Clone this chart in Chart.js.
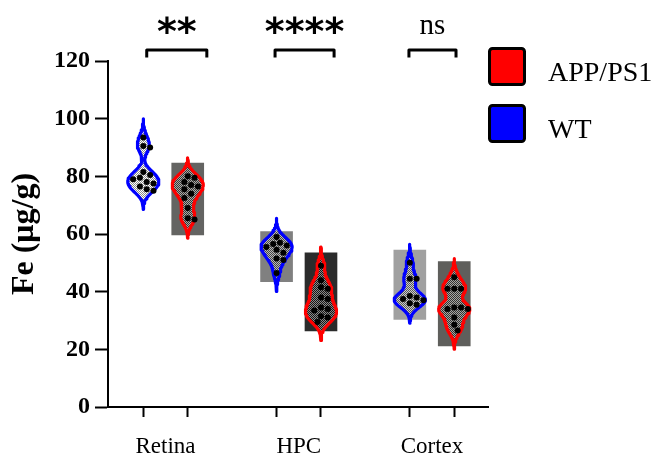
<!DOCTYPE html>
<html><head><meta charset="utf-8">
<script src="https://cdn.jsdelivr.net/npm/chart.js@4.4.1/dist/chart.umd.min.js"></script>
<style>html,body{margin:0;padding:0;background:#fff}</style>
</head><body>
<canvas id="c" width="659" height="455"></canvas>
<script>
// ---- data ----
const groups = ['Retina', 'HPC', 'Cortex'];
const seriesNames = ['WT', 'APP/PS1'];
const retinaWT  = [93.5, 90.5, 90, 81.5, 80.5, 79.5, 79, 78, 77.5, 76.5, 75.5, 75];
const retinaAPP = [80, 79.5, 78, 77, 76.5, 75.5, 74, 72.5, 69, 65.5, 65];
const hpcWT     = [59, 57, 56.5, 56, 55.5, 54.5, 53.5, 51.5, 51, 46.5];
const hpcAPP    = [49, 44, 41.5, 41, 38, 37.5, 34.5, 34, 33.5, 31.5, 31, 29.5];
const cortexWT  = [50, 44.5, 44.5, 38.5, 38, 37.5, 37, 36, 35.5];
const cortexAPP = [45, 41, 41, 41, 34.5, 34.5, 34, 34, 31, 28.5, 26.5];
// floating range boxes (low, high); Retina WT has none
const boxLow  = [null, 59.7, 43.5, 26.4, 30.4, 21.2];
const boxHigh = [null, 84.6, 60.8, 53.5, 54.4, 50.4];
const yTickValues = [0, 20, 40, 60, 80, 100, 120];
const sigLabels = ['**', '****', 'ns'];

// ---- layout / style ----
const samples = [retinaWT, retinaAPP, hpcWT, hpcAPP, cortexWT, cortexAPP];
const xPos = [1, 2, 4, 5, 7, 8];
const groupCenters = [1.5, 4.5, 7.5];
const lineColors = ['#0000ff', '#ff0000', '#0000ff', '#ff0000', '#0000ff', '#ff0000'];
const boxColors = ['rgba(0,0,0,0)', '#646462', '#808080', '#2b2b2b', '#a0a0a0', '#5f5f5c'];
const bracketX = [[1.077, 2.43], [3.966, 5.295], [6.98, 8.04]];
const PXU = 44.4, PYU = 2.883;

const pc = document.createElement('canvas'); pc.width = 2; pc.height = 2;
const pctx = pc.getContext('2d');
pctx.fillStyle = 'rgba(0,0,0,0.45)'; pctx.fillRect(0,0,1,1); pctx.fillRect(1,1,1,1);
pctx.fillStyle = 'rgba(255,255,255,0.45)'; pctx.fillRect(1,0,1,1); pctx.fillRect(0,1,1,1);
const pattern = pctx.createPattern(pc, 'repeat');

function violin(vals, c, bw, half) {
  const lo = Math.min(...vals) - 2.8 * bw, hi = Math.max(...vals) + 2.8 * bw;
  const ys = [];
  for (let y = lo; y <= hi + 1e-9; y += 0.4) ys.push(y);
  const d = ys.map(y => vals.reduce((s, v) => s + Math.exp(-0.5 * ((y - v) / bw) ** 2), 0));
  const m = Math.max(...d);
  const right = ys.map((y, i) => ({x: c + half * d[i] / m, y}));
  const left = ys.map((y, i) => ({x: c - half * d[i] / m, y})).reverse();
  return [{x: c, y: lo}, ...right, {x: c, y: hi}, ...left, {x: c, y: lo}];
}
function swarm(vals, c) {
  const placed = [];
  const sorted = [...vals].sort((a, b) => b - a);
  const cand = [0]; for (let k = 1; k < 8; k++) { cand.push(k * 3.4, -k * 3.4); }
  sorted.forEach(v => {
    for (const off of cand) {
      const ok = placed.every(p => Math.hypot(off - p.o, (v - p.y) * PYU) >= 6.6);
      if (ok) { placed.push({o: off, y: v}); break; }
    }
  });
  return placed.map(p => ({x: c + p.o / PXU, y: p.y}));
}

const datasets = [];
datasets.push({
  type: 'bar', order: 10,
  data: xPos.map((x, i) => boxLow[i] === null ? {x, y: null} : {x, y: [boxLow[i], boxHigh[i]]}),
  backgroundColor: boxColors, borderWidth: 0, barThickness: 32
});
samples.forEach((s, i) => {
  datasets.push({
    type: 'line', order: 5, data: violin(s, xPos[i], 2.3, 0.35),
    borderColor: lineColors[i], borderWidth: 3.2, backgroundColor: pattern,
    fill: 'shape', pointRadius: 0, tension: 0, borderJoinStyle: 'round'
  });
});
samples.forEach((s, i) => {
  datasets.push({
    type: 'scatter', order: 1, data: swarm(s, xPos[i]),
    pointRadius: 3, backgroundColor: '#000', borderWidth: 0, showLine: false
  });
});

const xTickValues = [1, 1.5, 2, 4, 4.5, 5, 7, 7.5, 8];

const overlay = {
  id: 'overlay',
  afterDraw(chart) {
    const ctx = chart.ctx, xs = chart.scales.x, ys = chart.scales.y;
    ctx.save();
    ctx.strokeStyle = '#000'; ctx.lineWidth = 3; ctx.lineJoin = 'round'; ctx.lineCap = 'butt';
    const yb = ys.getPixelForValue(123.8), yl = ys.getPixelForValue(121.2);
    bracketX.forEach(([a, b], i) => {
      const xa = xs.getPixelForValue(a), xb = xs.getPixelForValue(b);
      ctx.beginPath(); ctx.moveTo(xa, yl); ctx.lineTo(xa, yb); ctx.lineTo(xb, yb); ctx.lineTo(xb, yl); ctx.stroke();
      const cx = (xa + xb) / 2;
      ctx.fillStyle = '#000'; ctx.textAlign = 'center'; ctx.textBaseline = 'middle';
      if (sigLabels[i] === 'ns') {
        ctx.font = '29px "Liberation Serif"';
        ctx.fillText(sigLabels[i], cx, ys.getPixelForValue(132.5) + 1);
      } else {
        ctx.font = 'bold 38px "DejaVu Sans"';
        ctx.fillText(sigLabels[i], cx, ys.getPixelForValue(132.5) + 9);
      }
    });
    // legend
    const items = [{t: seriesNames[1], c: '#ff0000', y: 47}, {t: seriesNames[0], c: '#0000ff', y: 104}];
    items.forEach(it => {
      ctx.beginPath(); ctx.roundRect(489.5, it.y + 1.5, 35, 36, 3);
      ctx.fillStyle = it.c; ctx.fill(); ctx.lineWidth = 3; ctx.strokeStyle = '#000'; ctx.stroke();
      ctx.fillStyle = '#000'; ctx.font = '28px "Liberation Serif"'; ctx.textAlign = 'left'; ctx.textBaseline = 'middle';
      ctx.fillText(it.t, 548, it.y + 27);
    });
    ctx.restore();
  }
};

new Chart(document.getElementById('c'), {
  type: 'bar',
  data: {datasets},
  plugins: [overlay],
  options: {
    responsive: false, animation: false, devicePixelRatio: 1,
    layout: {padding: {left: 0, right: 171, top: 61, bottom: 0}},
    plugins: {legend: {display: false}, tooltip: {enabled: false}},
    scales: {
      x: {
        type: 'linear', min: 0.205, max: 8.76, offset: false,
        afterBuildTicks: s => { s.ticks = xTickValues.map(v => ({value: v})); },
        afterFit: s => { s.height = 48; },
        grid: {offset: false, drawOnChartArea: false, drawTicks: true, tickLength: 10, tickWidth: 2,
               tickColor: c => (c.tick && c.tick.value % 1 !== 0) ? 'rgba(0,0,0,0)' : '#000'},
        border: {display: true, color: '#000', width: 2},
        ticks: {autoSkip: false, maxRotation: 0, padding: 16, color: '#000',
                font: {family: 'Liberation Serif', size: 23},
                callback: v => { const i = groupCenters.indexOf(v); return i >= 0 ? groups[i] : ''; }}
      },
      y: {
        min: 0, max: 120,
        afterBuildTicks: s => { s.ticks = yTickValues.map(v => ({value: v})); },
        afterFit: s => { s.width = 108; },
        grid: {drawOnChartArea: false, tickLength: 13, tickWidth: 2, tickColor: '#000'},
        border: {display: true, color: '#000', width: 2},
        ticks: {padding: 5, color: '#000', font: {family: 'Liberation Serif', size: 24, weight: 'bold'}},
        title: {display: true, text: 'Fe (μg/g)', color: '#000',
                font: {family: 'Liberation Serif', size: 32, weight: 'bold'}, padding: {top: 6, bottom: 0}}
      }
    }
  }
});
</script>
</body></html>
